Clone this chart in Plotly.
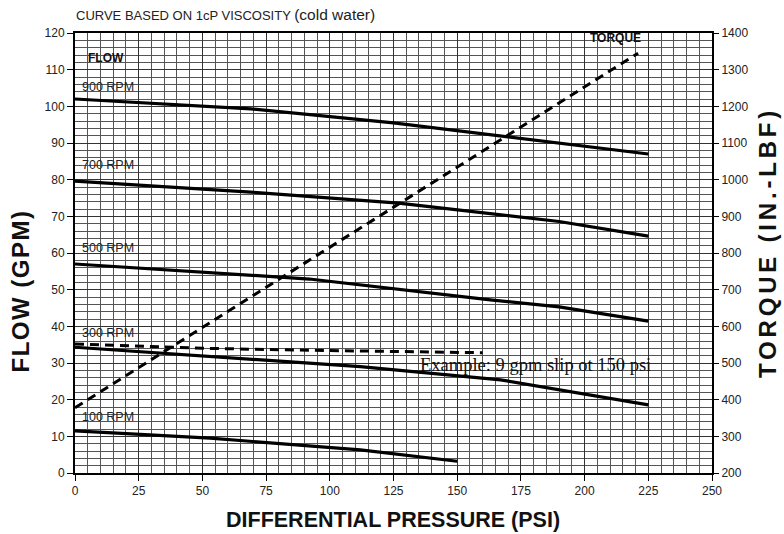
import plotly.graph_objects as go

# ---- data ----
psi_900 = [0, 69, 125, 170, 190, 225]
gpm_900 = [102.0, 99.3, 95.5, 91.6, 90.0, 87.0]

psi_700 = [0, 69, 127, 190, 225]
gpm_700 = [79.6, 76.6, 73.6, 68.6, 64.6]

psi_500 = [0, 92, 163, 190, 225]
gpm_500 = [57.0, 52.9, 47.2, 45.3, 41.4]

psi_300 = [0, 33, 73, 112, 167, 225]
gpm_300 = [34.3, 32.8, 30.8, 29.0, 25.4, 18.6]

psi_100 = [0, 53, 112, 150]
gpm_100 = [11.5, 9.5, 6.3, 3.2]

torque_psi = [0, 221]
torque_inlbf = [378, 1345]

example_psi = [0, 50, 100, 160]
example_gpm = [35.2, 34.0, 33.4, 32.8]

rpm_labels = ["900 RPM", "700 RPM", "500 RPM", "300 RPM", "100 RPM"]
rpm_label_gpm = [105.3, 84.0, 61.4, 38.2, 15.3]

x_ticks = list(range(0, 251, 25))
y_ticks = list(range(0, 121, 10))
y2_ticks = list(range(200, 1401, 100))

fig = go.Figure()

for xs, ys in [(psi_900, gpm_900), (psi_700, gpm_700), (psi_500, gpm_500),
               (psi_300, gpm_300), (psi_100, gpm_100)]:
    fig.add_trace(go.Scatter(x=xs, y=ys, mode="lines",
                             line=dict(color="black", width=3.2),
                             showlegend=False, hoverinfo="skip"))

fig.add_trace(go.Scatter(x=example_psi, y=example_gpm, mode="lines",
                         line=dict(color="black", width=3, dash="9px,6px"),
                         showlegend=False, hoverinfo="skip"))

fig.add_trace(go.Scatter(x=torque_psi, y=torque_inlbf, mode="lines", yaxis="y2",
                         line=dict(color="black", width=3, dash="9px,6px"),
                         showlegend=False, hoverinfo="skip"))

ann = []
for t, g in zip(rpm_labels, rpm_label_gpm):
    ann.append(dict(x=2, y=g, xref="x", yref="y", text=t, showarrow=False,
                    xanchor="left", yanchor="middle",
                    font=dict(family="Arial", size=12.5, color="#222")))
ann.append(dict(x=4.5, y=113.2, xref="x", yref="y", text="<b>FLOW</b>", showarrow=False,
                xanchor="left", yanchor="middle",
                font=dict(family="Arial", size=12, color="#111")))
ann.append(dict(x=212, y=118.6, xref="x", yref="y", text="<b>TORQUE</b>", showarrow=False,
                xanchor="center", yanchor="middle",
                font=dict(family="Arial", size=12, color="#111")))
ann.append(dict(x=134.5, y=29.5, xref="x", yref="y", text="Example: 9 gpm slip ot 150 psi",
                showarrow=False, xanchor="left", yanchor="middle",
                font=dict(family="Liberation Serif", size=18.5, color="#111")))
ann.append(dict(x=-0.002, y=1.043, xref="paper", yref="paper",
                text="CURVE BASED ON 1cP VISCOSITY <span style='font-size:15.5px'>(cold water)</span>",
                showarrow=False, xanchor="left", yanchor="middle",
                font=dict(family="Arial", size=13, color="#222")))
ann.append(dict(x=-0.086, y=0.413, xref="paper", yref="paper",
                text="<span style='letter-spacing:1.5px'><b>FLOW (GPM)</b></span>",
                showarrow=False, textangle=-90, xanchor="center", yanchor="middle",
                font=dict(family="Arial", size=24, color="#111")))
ann.append(dict(x=1.088, y=0.523, xref="paper", yref="paper",
                text="<span style='letter-spacing:3.8px'><b>TORQUE (IN.-LBF)</b></span>",
                showarrow=False, textangle=-90, xanchor="center", yanchor="middle",
                font=dict(family="Arial", size=24, color="#111")))
ann.append(dict(x=0.499, y=-0.107, xref="paper", yref="paper",
                text="<b>DIFFERENTIAL PRESSURE (PSI)</b>",
                showarrow=False, xanchor="center", yanchor="middle",
                font=dict(family="Arial", size=21.5, color="#111")))

fig.update_layout(
    width=784, height=534,
    margin=dict(l=75, r=72, t=33, b=61),
    paper_bgcolor="white", plot_bgcolor="white",
    annotations=ann,
    xaxis=dict(range=[0, 250], tickvals=x_ticks, ticks="outside", ticklen=6,
               tickcolor="black", showline=True, linecolor="black", linewidth=2,
               mirror=True, showgrid=True, gridcolor="#333", gridwidth=1,
               minor=dict(dtick=5, showgrid=True, gridcolor="#555", gridwidth=0.8),
               zeroline=False,
               tickfont=dict(family="Arial", size=12, color="#222")),
    yaxis=dict(range=[0, 120], tickvals=y_ticks, ticks="outside", ticklen=6,
               tickcolor="black", showline=True, linecolor="black", linewidth=2,
               mirror=True, showgrid=True, gridcolor="#333", gridwidth=1,
               minor=dict(dtick=2, showgrid=True, gridcolor="#555", gridwidth=0.8),
               zeroline=False,
               tickfont=dict(family="Arial", size=12, color="#222")),
    yaxis2=dict(range=[200, 1400], tickvals=y2_ticks, overlaying="y", side="right",
                ticks="outside", ticklen=6, tickcolor="black", showgrid=False,
                showline=False, zeroline=False,
                tickfont=dict(family="Arial", size=12, color="#222")),
)

fig.write_html("out.html", config={"displayModeBar": False},
               post_script="document.body.style.margin='0';document.body.style.overflow='hidden';")
